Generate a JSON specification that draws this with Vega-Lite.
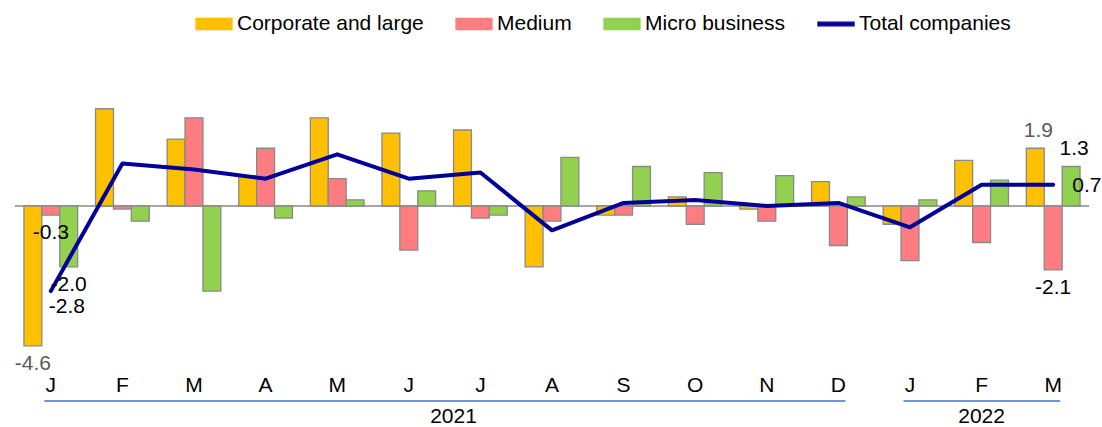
{
  "$schema": "https://vega.github.io/schema/vega-lite/v6.json",
  "width": 1074,
  "height": 300,
  "autosize": {"type": "none"},
  "padding": {"left": 15, "top": 70, "right": 13, "bottom": 57},
  "background": "white",
  "config": {
    "view": {"stroke": null},
    "font": "Liberation Sans",
    "text": {"font": "Liberation Sans", "fontSize": 21},
    "axisX": {"domain": false, "ticks": false, "grid": false, "labelAngle": 0, "labelFontSize": 21, "labelFont": "Liberation Sans", "labelColor": "#000000", "labelPadding": 4, "labelExpr": "slice(datum.label, 0, 1)"},
    "legend": {
      "orient": "none", "legendX": 180, "legendY": -65, "direction": "horizontal", "title": null,
      "symbolSize": 1296, "labelFontSize": 21, "labelFont": "Liberation Sans", "labelColor": "#000000", "labelLimit": 0,
      "labelOffset": 4, "columnPadding": 29, "padding": 0, "symbolStrokeWidth": 1.3
    }
  },
  "datasets": {
    "main": [
      {"month": "Jan 2021", "series": "Corporate and large", "value": -4.6, "lab": 1},
      {"month": "Jan 2021", "series": "Medium", "value": -0.3, "lab": 1},
      {"month": "Jan 2021", "series": "Micro business", "value": -2.0, "lab": 1},
      {"month": "Jan 2021", "series": "Total companies", "value": -2.8, "lab": 1},
      {"month": "Feb 2021", "series": "Corporate and large", "value": 3.2, "lab": 0},
      {"month": "Feb 2021", "series": "Medium", "value": -0.1, "lab": 0},
      {"month": "Feb 2021", "series": "Micro business", "value": -0.5, "lab": 0},
      {"month": "Feb 2021", "series": "Total companies", "value": 1.4, "lab": 0},
      {"month": "Mar 2021", "series": "Corporate and large", "value": 2.2, "lab": 0},
      {"month": "Mar 2021", "series": "Medium", "value": 2.9, "lab": 0},
      {"month": "Mar 2021", "series": "Micro business", "value": -2.8, "lab": 0},
      {"month": "Mar 2021", "series": "Total companies", "value": 1.2, "lab": 0},
      {"month": "Apr 2021", "series": "Corporate and large", "value": 1.0, "lab": 0},
      {"month": "Apr 2021", "series": "Medium", "value": 1.9, "lab": 0},
      {"month": "Apr 2021", "series": "Micro business", "value": -0.4, "lab": 0},
      {"month": "Apr 2021", "series": "Total companies", "value": 0.9, "lab": 0},
      {"month": "May 2021", "series": "Corporate and large", "value": 2.9, "lab": 0},
      {"month": "May 2021", "series": "Medium", "value": 0.9, "lab": 0},
      {"month": "May 2021", "series": "Micro business", "value": 0.2, "lab": 0},
      {"month": "May 2021", "series": "Total companies", "value": 1.7, "lab": 0},
      {"month": "Jun 2021", "series": "Corporate and large", "value": 2.4, "lab": 0},
      {"month": "Jun 2021", "series": "Medium", "value": -1.45, "lab": 0},
      {"month": "Jun 2021", "series": "Micro business", "value": 0.5, "lab": 0},
      {"month": "Jun 2021", "series": "Total companies", "value": 0.9, "lab": 0},
      {"month": "Jul 2021", "series": "Corporate and large", "value": 2.5, "lab": 0},
      {"month": "Jul 2021", "series": "Medium", "value": -0.4, "lab": 0},
      {"month": "Jul 2021", "series": "Micro business", "value": -0.3, "lab": 0},
      {"month": "Jul 2021", "series": "Total companies", "value": 1.1, "lab": 0},
      {"month": "Aug 2021", "series": "Corporate and large", "value": -2.0, "lab": 0},
      {"month": "Aug 2021", "series": "Medium", "value": -0.5, "lab": 0},
      {"month": "Aug 2021", "series": "Micro business", "value": 1.6, "lab": 0},
      {"month": "Aug 2021", "series": "Total companies", "value": -0.8, "lab": 0},
      {"month": "Sep 2021", "series": "Corporate and large", "value": -0.3, "lab": 0},
      {"month": "Sep 2021", "series": "Medium", "value": -0.3, "lab": 0},
      {"month": "Sep 2021", "series": "Micro business", "value": 1.3, "lab": 0},
      {"month": "Sep 2021", "series": "Total companies", "value": 0.1, "lab": 0},
      {"month": "Oct 2021", "series": "Corporate and large", "value": 0.3, "lab": 0},
      {"month": "Oct 2021", "series": "Medium", "value": -0.6, "lab": 0},
      {"month": "Oct 2021", "series": "Micro business", "value": 1.1, "lab": 0},
      {"month": "Oct 2021", "series": "Total companies", "value": 0.2, "lab": 0},
      {"month": "Nov 2021", "series": "Corporate and large", "value": -0.1, "lab": 0},
      {"month": "Nov 2021", "series": "Medium", "value": -0.5, "lab": 0},
      {"month": "Nov 2021", "series": "Micro business", "value": 1.0, "lab": 0},
      {"month": "Nov 2021", "series": "Total companies", "value": 0.0, "lab": 0},
      {"month": "Dec 2021", "series": "Corporate and large", "value": 0.8, "lab": 0},
      {"month": "Dec 2021", "series": "Medium", "value": -1.3, "lab": 0},
      {"month": "Dec 2021", "series": "Micro business", "value": 0.3, "lab": 0},
      {"month": "Dec 2021", "series": "Total companies", "value": 0.1, "lab": 0},
      {"month": "Jan 2022", "series": "Corporate and large", "value": -0.6, "lab": 0},
      {"month": "Jan 2022", "series": "Medium", "value": -1.8, "lab": 0},
      {"month": "Jan 2022", "series": "Micro business", "value": 0.2, "lab": 0},
      {"month": "Jan 2022", "series": "Total companies", "value": -0.7, "lab": 0},
      {"month": "Feb 2022", "series": "Corporate and large", "value": 1.5, "lab": 0},
      {"month": "Feb 2022", "series": "Medium", "value": -1.2, "lab": 0},
      {"month": "Feb 2022", "series": "Micro business", "value": 0.85, "lab": 0},
      {"month": "Feb 2022", "series": "Total companies", "value": 0.7, "lab": 0},
      {"month": "Mar 2022", "series": "Corporate and large", "value": 1.9, "lab": 1},
      {"month": "Mar 2022", "series": "Medium", "value": -2.1, "lab": 1},
      {"month": "Mar 2022", "series": "Micro business", "value": 1.3, "lab": 1},
      {"month": "Mar 2022", "series": "Total companies", "value": 0.7, "lab": 1}
    ],
    "years": [
      {"year": "2021", "start": "Jan 2021", "end": "Dec 2021", "mid": "Jul 2021"},
      {"year": "2022", "start": "Jan 2022", "end": "Mar 2022", "mid": "Feb 2022"}
    ]
  },
  "layer": [
    {
      "data": {"values": [{}]},
      "mark": {"type": "rule", "color": "#898989", "strokeWidth": 1.3},
      "encoding": {
        "y": {"datum": 0, "type": "quantitative", "scale": {"domain": [-5.395, 4.474], "nice": false, "zero": false}, "axis": null}
      }
    },
    {
      "data": {"name": "main"},
      "transform": [{"filter": "datum.series !== 'Total companies'"}],
      "mark": {"type": "bar", "stroke": "#898989", "strokeWidth": 1.3},
      "encoding": {
        "x": {"field": "month", "type": "nominal", "title": null,
          "scale": {"domain": ["Jan 2021","Feb 2021","Mar 2021","Apr 2021","May 2021","Jun 2021","Jul 2021","Aug 2021","Sep 2021","Oct 2021","Nov 2021","Dec 2021","Jan 2022","Feb 2022","Mar 2022"], "paddingInner": 0.25, "paddingOuter": 0.125}},
        "xOffset": {"field": "series", "type": "nominal", "scale": {"domain": ["Corporate and large", "Medium", "Micro business"], "paddingInner": 0, "paddingOuter": 0}},
        "y": {"field": "value", "type": "quantitative", "scale": {"domain": [-5.395, 4.474], "nice": false, "zero": false}, "axis": null},
        "color": {"field": "series", "type": "nominal",
          "scale": {"domain": ["Corporate and large", "Medium", "Micro business", "Total companies"], "range": ["#FFC000", "#FF7C80", "#92D050", "#000099"]},
          "legend": {
            "encode": {
              "symbols": {
                "update": {
                  "shape": {"signal": "datum.value === 'Total companies' ? 'M-1,-0.1H1V0.1H-1Z' : 'M-1,-0.31H1V0.31H-1Z'"},
                  "fill": {"signal": "scale('color', datum.value)"},
                  "stroke": {"signal": "datum.value === 'Total companies' ? 'transparent' : '#898989'"},
                  "strokeWidth": {"value": 1.3},
                  "opacity": {"value": 1}
                }
              }
            }
          }
        }
      }
    },
    {
      "data": {"name": "main"},
      "transform": [{"filter": "datum.series === 'Total companies'"}],
      "mark": {"type": "line", "strokeWidth": 4, "strokeCap": "round", "strokeJoin": "round"},
      "encoding": {
        "x": {"field": "month", "type": "nominal", "title": null,
          "scale": {"domain": ["Jan 2021","Feb 2021","Mar 2021","Apr 2021","May 2021","Jun 2021","Jul 2021","Aug 2021","Sep 2021","Oct 2021","Nov 2021","Dec 2021","Jan 2022","Feb 2022","Mar 2022"]}},
        "y": {"field": "value", "type": "quantitative", "scale": {"domain": [-5.395, 4.474], "nice": false, "zero": false}, "axis": null},
        "color": {"field": "series", "type": "nominal",
          "legend": {
            "encode": {
              "symbols": {
                "update": {
                  "shape": {"signal": "datum.value === 'Total companies' ? 'M-1,-0.1H1V0.1H-1Z' : 'M-1,-0.31H1V0.31H-1Z'"},
                  "fill": {"signal": "scale('color', datum.value)"},
                  "stroke": {"signal": "datum.value === 'Total companies' ? 'transparent' : '#898989'"},
                  "strokeWidth": {"value": 1.3},
                  "opacity": {"value": 1}
                }
              }
            }
          }
        }
      }
    },
    {
      "data": {"name": "main"},
      "transform": [
        {"filter": "datum.lab === 1 && datum.series !== 'Total companies' && datum.value < 0"},
        {"calculate": "replace(format(datum.value, '.1f'), '\u2212', '-')", "as": "lbl"}
      ],
      "mark": {"type": "text", "align": "center", "baseline": "top", "dy": 7, "fontSize": 21},
      "encoding": {
        "x": {"field": "month", "type": "nominal", "title": null},
        "xOffset": {"field": "series", "type": "nominal"},
        "y": {"field": "value", "type": "quantitative", "scale": {"domain": [-5.395, 4.474], "nice": false, "zero": false}, "axis": null},
        "text": {"field": "lbl"},
        "color": {"condition": {"test": "datum.series === 'Corporate and large'", "value": "#595959"}, "value": "#000000"}
      }
    },
    {
      "data": {"name": "main"},
      "transform": [
        {"filter": "datum.lab === 1 && datum.series !== 'Total companies' && datum.value >= 0"},
        {"calculate": "replace(format(datum.value, '.1f'), '\u2212', '-')", "as": "lbl"}
      ],
      "mark": {"type": "text", "align": "center", "baseline": "alphabetic", "dy": -11, "dx": 3, "fontSize": 21},
      "encoding": {
        "x": {"field": "month", "type": "nominal", "title": null},
        "xOffset": {"field": "series", "type": "nominal"},
        "y": {"field": "value", "type": "quantitative", "scale": {"domain": [-5.395, 4.474], "nice": false, "zero": false}, "axis": null},
        "text": {"field": "lbl"},
        "color": {"condition": {"test": "datum.series === 'Corporate and large'", "value": "#595959"}, "value": "#000000"}
      }
    },
    {
      "data": {"name": "main"},
      "transform": [
        {"filter": "datum.series === 'Total companies' && datum.month === 'Jan 2021'"},
        {"calculate": "replace(format(datum.value, '.1f'), '\u2212', '-')", "as": "lbl"}
      ],
      "mark": {"type": "text", "align": "left", "baseline": "middle", "dx": -2, "dy": 16, "fontSize": 21, "color": "#000000"},
      "encoding": {
        "x": {"field": "month", "type": "nominal", "title": null},
        "y": {"field": "value", "type": "quantitative", "scale": {"domain": [-5.395, 4.474], "nice": false, "zero": false}, "axis": null},
        "text": {"field": "lbl"}
      }
    },
    {
      "data": {"name": "main"},
      "transform": [
        {"filter": "datum.series === 'Total companies' && datum.month === 'Mar 2022'"},
        {"calculate": "replace(format(datum.value, '.1f'), '\u2212', '-')", "as": "lbl"}
      ],
      "mark": {"type": "text", "align": "left", "baseline": "middle", "dx": 19, "dy": 1.5, "fontSize": 21, "color": "#000000"},
      "encoding": {
        "x": {"field": "month", "type": "nominal", "title": null},
        "y": {"field": "value", "type": "quantitative", "scale": {"domain": [-5.395, 4.474], "nice": false, "zero": false}, "axis": null},
        "text": {"field": "lbl"}
      }
    },
    {
      "data": {"name": "years"},
      "mark": {"type": "rule", "color": "#4472C4", "strokeWidth": 1.6},
      "encoding": {
        "x": {"field": "start", "type": "nominal", "bandPosition": 0.38, "title": null},
        "x2": {"field": "end", "bandPosition": 0.63},
        "y": {"datum": -6.414, "type": "quantitative", "scale": {"domain": [-5.395, 4.474], "nice": false, "zero": false}, "axis": null}
      }
    },
    {
      "data": {"name": "years"},
      "transform": [{"filter": "datum.year === '2021'"}],
      "mark": {"type": "text", "align": "center", "baseline": "middle", "fontSize": 21, "color": "#000000"},
      "encoding": {
        "x": {"field": "mid", "type": "nominal", "bandPosition": 0, "title": null},
        "y": {"datum": -6.95, "type": "quantitative", "scale": {"domain": [-5.395, 4.474], "nice": false, "zero": false}, "axis": null},
        "text": {"field": "year"}
      }
    },
    {
      "data": {"name": "years"},
      "transform": [{"filter": "datum.year === '2022'"}],
      "mark": {"type": "text", "align": "center", "baseline": "middle", "fontSize": 21, "color": "#000000"},
      "encoding": {
        "x": {"field": "mid", "type": "nominal", "bandPosition": 0.5, "title": null},
        "y": {"datum": -6.95, "type": "quantitative", "scale": {"domain": [-5.395, 4.474], "nice": false, "zero": false}, "axis": null},
        "text": {"field": "year"}
      }
    }
  ]
}
